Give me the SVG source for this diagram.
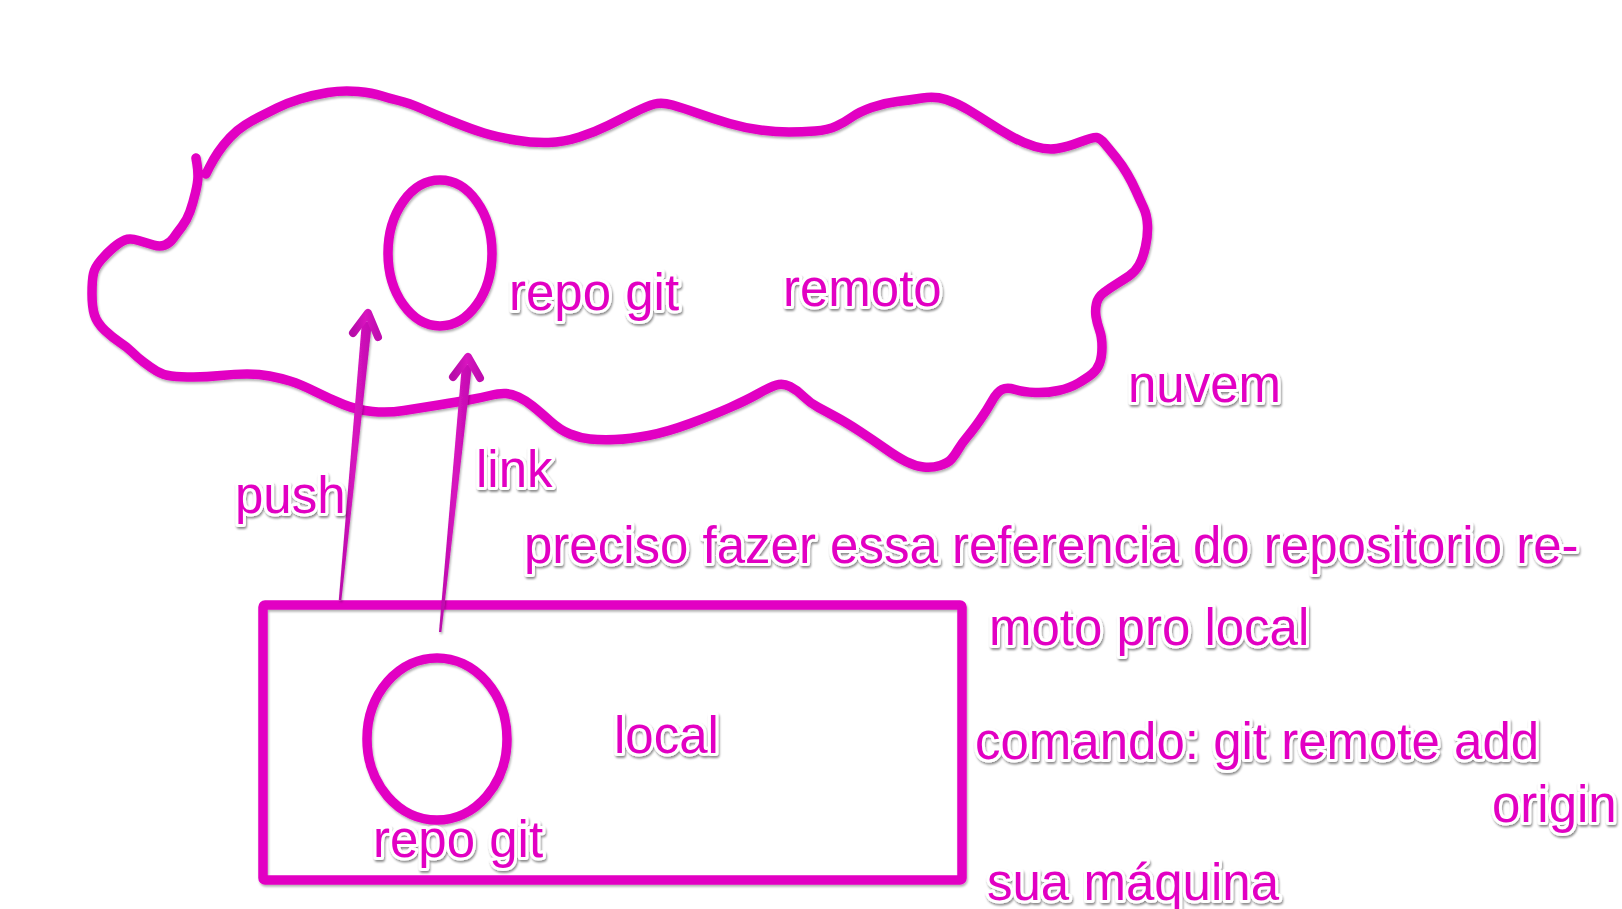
<svg xmlns="http://www.w3.org/2000/svg" width="1622" height="909" viewBox="0 0 1622 909">
<defs>
<filter id="sh" x="-10%" y="-10%" width="120%" height="130%">
<feDropShadow dx="1" dy="2" stdDeviation="1.2" flood-color="#000" flood-opacity="0.3"/>
</filter>
<filter id="tsh" x="-5%" y="-20%" width="110%" height="150%">
<feDropShadow dx="1" dy="2" stdDeviation="1" flood-color="#000" flood-opacity="0.45"/>
</filter>
<linearGradient id="ag" x1="0" y1="0" x2="1" y2="0">
<stop offset="0" stop-color="#B70DA9"/>
<stop offset="0.5" stop-color="#D814BF"/>
<stop offset="1" stop-color="#C00DAF"/>
</linearGradient>
<style>
.ln{fill:none;stroke:#E206C3;stroke-width:9.5;stroke-linejoin:round;stroke-linecap:round;filter:url(#sh)}
.t{font-family:"Liberation Sans",Arial,sans-serif;font-size:51px;fill:#E206C3;stroke:#fff;stroke-width:6;stroke-linejoin:round;paint-order:stroke;filter:url(#tsh)}
.shaft{fill:url(#ag);filter:url(#sh)}
.head{fill:none;stroke:url(#ag);stroke-width:8;stroke-linecap:round;stroke-linejoin:round}
</style>
</defs>
<rect width="1622" height="909" fill="#fff"/>
<g id="nuvem">
<path class="ln" d="M196,158 L197,164 Q198,170 198,176 Q198,182 195.5,192.5 Q193,203 190,211.5 Q187,220 182,226.5 Q177,233 173.5,238 Q170,243 165,245 Q160,247 153.5,245 Q147,243 138.5,240.5 Q130,238 125,240 Q120,242 113.5,247.5 Q107,253 101,260 Q95,267 93.5,273.5 Q92,280 92,293.5 Q92,307 94.5,315 Q97,323 105,330.5 Q113,338 120,342.5 Q127,347 132,352 Q137,357 143.5,362 Q150,367 156.5,371 Q163,375 171.5,376 Q180,377 193.5,377 Q207,377 221,375.5 Q235,374 247,374 Q259,374 269.5,376 Q280,378 290,381 Q300,384 315,391.5 Q330,399 343.5,404.5 Q357,410 372.5,411.5 Q388,413 404,410.5 Q420,408 438.5,405 Q457,402 468.5,400 Q480,398 490,395.5 Q500,393 506,393.5 Q512,394 518.5,397 Q525,400 532.5,406 Q540,412 550,421 Q560,430 570,434 Q580,438 590,439 Q600,440 615,439.5 Q630,439 648.5,435.5 Q667,432 690,423.5 Q713,415 730,407.5 Q747,400 758.5,393.5 Q770,387 776.5,385 Q783,383 790,386.5 Q797,390 803.5,396.5 Q810,403 818.5,407.5 Q827,412 837,417.5 Q847,423 860,431.5 Q873,440 885,448.5 Q897,457 906,461.5 Q915,466 923.5,467 Q932,468 940,465.5 Q948,463 951.5,459 Q955,455 958.5,449 Q962,443 967.5,436.5 Q973,430 980,420 Q987,410 992,401 Q997,392 1002,389.5 Q1007,387 1015,389.5 Q1023,392 1035,392.5 Q1047,393 1058.5,390.5 Q1070,388 1078.5,383 Q1087,378 1092,374 Q1097,370 1099.5,363.5 Q1102,357 1102,347 Q1102,337 1099.5,330 Q1097,323 1096,316.5 Q1095,310 1096.5,303.5 Q1098,297 1104,292.5 Q1110,288 1116.5,284 Q1123,280 1129,276 Q1135,272 1139,265 Q1143,258 1145.5,246.5 Q1148,235 1147.5,225 Q1147,215 1143.5,207.5 Q1140,200 1136,191 Q1132,182 1127,173.5 Q1122,165 1116,157.5 Q1110,150 1105,144 Q1100,138 1096.5,137.5 Q1093,137 1080,142 Q1067,147 1057,148.5 Q1047,150 1035,146.5 Q1023,143 1011.5,136.5 Q1000,130 990,123.5 Q980,117 968.5,110 Q957,103 946,99.5 Q935,96 922.5,98 Q910,100 897,101.5 Q884,103 871.5,107.5 Q859,112 852,117 Q845,122 836.5,126 Q828,130 815,131 Q802,132 789,132 Q776,132 760.5,130 Q745,128 729.5,123.5 Q714,119 698.5,113.5 Q683,108 672.5,105 Q662,102 654.5,104 Q647,106 634,112.5 Q621,119 608,125.5 Q595,132 579.5,137 Q564,142 548.5,142.5 Q533,143 515,140 Q497,137 484,133 Q471,129 452.5,121.5 Q434,114 421.5,108.5 Q409,103 398.5,100.5 Q388,98 380.5,95.5 Q373,93 358,91.5 Q343,90 328,92.5 Q313,95 300,99 Q287,103 277,108 Q267,113 260,116.5 Q253,120 245,125 Q237,130 230,137.5 Q223,145 218,152.5 Q213,160 209.5,167 L206,174"/>
<text class="t" x="1128" y="402">nuvem</text>
</g>
<g id="repo-remoto">
<ellipse class="ln" cx="440" cy="253" rx="52" ry="73"/>
<text class="t" x="509" y="310">repo git</text>
</g>
<g id="remoto-label">
<text class="t" x="783" y="306">remoto</text>
</g>
<g id="sua-maquina">
<rect class="ln" x="263" y="605" width="699" height="275" rx="2"/>
<text class="t" x="614" y="753">local</text>
<text class="t" x="987" y="900">sua máquina</text>
</g>
<g id="repo-local">
<ellipse class="ln" cx="437" cy="739" rx="70" ry="81"/>
<text class="t" x="373" y="857">repo git</text>
</g>
<g id="connectors">
<g id="push">
<polygon class="shaft" points="338.8,600 341.4,600 372,322 362,321"/>
<polyline class="head" points="353,333 368,313 378,337"/>
<text class="t" x="235" y="513">push</text>
</g>
<g id="link">
<polygon class="shaft" points="439,632 441.4,632 472,365 462,364"/>
<polyline class="head" points="453,377 468,357 480,378"/>
<text class="t" x="476" y="487">link</text>
</g>
</g>
<g id="notas">
<text class="t" x="524" y="563">preciso fazer essa referencia do repositorio re-</text>
<text class="t" x="989" y="645">moto pro local</text>
<text class="t" x="975" y="759">comando: git remote add</text>
<text class="t" x="1492" y="822">origin</text>
</g>
</svg>
